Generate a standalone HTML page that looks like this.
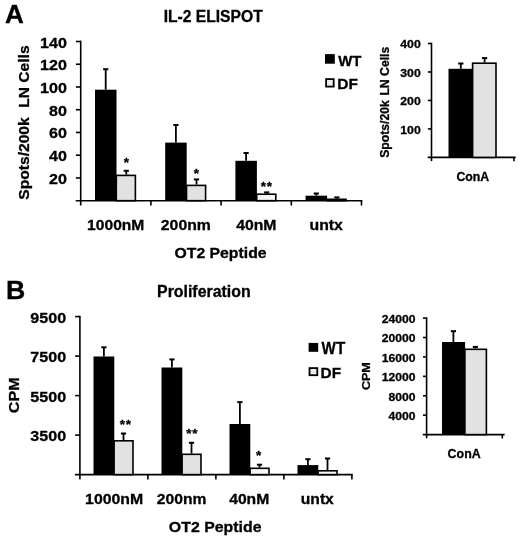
<!DOCTYPE html>
<html><head><meta charset="utf-8"><style>
html,body{margin:0;padding:0;background:#fff;}
svg{display:block;will-change:transform;}
text{font-family:"Liberation Sans", sans-serif;font-weight:bold;fill:#000;font-kerning:none;white-space:pre;stroke:#000;stroke-width:0.3px;}
</style></head><body>
<svg width="520" height="537" viewBox="0 0 520 537">
<rect width="520" height="537" fill="#fff"/>
<text transform="translate(4.95,23.30) scale(1.0139,1)" font-size="25.73">A</text>
<text transform="translate(163.65,21.90) scale(0.9933,1)" font-size="15.75">IL-2 ELISPOT</text>
<line x1="80.70" y1="40.70" x2="80.70" y2="201.50" stroke="#000" stroke-width="1.6"/>
<line x1="75.90" y1="177.96" x2="80.70" y2="177.96" stroke="#000" stroke-width="1.6"/>
<text transform="translate(48.97,183.96) scale(1.0400,1)" font-size="15.47">20</text>
<line x1="75.90" y1="155.21" x2="80.70" y2="155.21" stroke="#000" stroke-width="1.6"/>
<text transform="translate(48.97,161.21) scale(1.0400,1)" font-size="15.47">40</text>
<line x1="75.90" y1="132.47" x2="80.70" y2="132.47" stroke="#000" stroke-width="1.6"/>
<text transform="translate(48.97,138.47) scale(1.0400,1)" font-size="15.47">60</text>
<line x1="75.90" y1="109.73" x2="80.70" y2="109.73" stroke="#000" stroke-width="1.6"/>
<text transform="translate(48.97,115.73) scale(1.0400,1)" font-size="15.47">80</text>
<line x1="75.90" y1="86.99" x2="80.70" y2="86.99" stroke="#000" stroke-width="1.6"/>
<text transform="translate(40.02,92.99) scale(1.0400,1)" font-size="15.47">100</text>
<line x1="75.90" y1="64.24" x2="80.70" y2="64.24" stroke="#000" stroke-width="1.6"/>
<text transform="translate(40.02,70.24) scale(1.0400,1)" font-size="15.47">120</text>
<line x1="75.90" y1="41.50" x2="80.70" y2="41.50" stroke="#000" stroke-width="1.6"/>
<text transform="translate(40.02,47.50) scale(1.0400,1)" font-size="15.47">140</text>
<line x1="75.70" y1="200.70" x2="362.30" y2="200.70" stroke="#000" stroke-width="1.6"/>
<line x1="80.70" y1="200.70" x2="80.70" y2="205.50" stroke="#000" stroke-width="1.6"/>
<line x1="150.90" y1="200.70" x2="150.90" y2="205.50" stroke="#000" stroke-width="1.6"/>
<line x1="221.10" y1="200.70" x2="221.10" y2="205.50" stroke="#000" stroke-width="1.6"/>
<line x1="291.30" y1="200.70" x2="291.30" y2="205.50" stroke="#000" stroke-width="1.6"/>
<line x1="361.50" y1="200.70" x2="361.50" y2="205.50" stroke="#000" stroke-width="1.6"/>
<text transform="translate(28.70,199.65) rotate(-90) scale(1.0474,1)" font-size="14.90">Spots/200k</text>
<text transform="translate(28.70,107.74) rotate(-90) scale(1.0461,1)" font-size="14.90">LN Cells</text>
<rect x="95.00" y="89.70" width="21.50" height="111.00" fill="#000"/>
<line x1="105.70" y1="89.70" x2="105.70" y2="69.20" stroke="#000" stroke-width="1.8"/>
<line x1="103.10" y1="69.20" x2="108.30" y2="69.20" stroke="#000" stroke-width="2.0"/>
<rect x="116.30" y="175.40" width="19.10" height="25.30" fill="#e2e2e2" stroke="#000" stroke-width="1.6"/>
<line x1="126.30" y1="174.60" x2="126.30" y2="170.80" stroke="#000" stroke-width="1.8"/>
<line x1="123.70" y1="170.80" x2="128.90" y2="170.80" stroke="#000" stroke-width="2.0"/>
<text x="123.76" y="167.08" font-size="13.5">*</text>
<rect x="165.20" y="142.60" width="21.50" height="58.10" fill="#000"/>
<line x1="175.90" y1="142.60" x2="175.90" y2="125.00" stroke="#000" stroke-width="1.8"/>
<line x1="173.30" y1="125.00" x2="178.50" y2="125.00" stroke="#000" stroke-width="2.0"/>
<rect x="186.50" y="185.40" width="19.10" height="15.30" fill="#e2e2e2" stroke="#000" stroke-width="1.6"/>
<line x1="196.50" y1="184.60" x2="196.50" y2="179.40" stroke="#000" stroke-width="1.8"/>
<line x1="193.90" y1="179.40" x2="199.10" y2="179.40" stroke="#000" stroke-width="2.0"/>
<text x="193.66" y="178.18" font-size="13.5">*</text>
<rect x="235.40" y="160.80" width="21.50" height="39.90" fill="#000"/>
<line x1="246.10" y1="160.80" x2="246.10" y2="153.00" stroke="#000" stroke-width="1.8"/>
<line x1="243.50" y1="153.00" x2="248.70" y2="153.00" stroke="#000" stroke-width="2.0"/>
<rect x="256.70" y="194.20" width="19.10" height="6.50" fill="#f6f6f6" stroke="#000" stroke-width="1.6"/>
<line x1="266.70" y1="193.40" x2="266.70" y2="192.40" stroke="#000" stroke-width="1.8"/>
<line x1="264.10" y1="192.40" x2="269.30" y2="192.40" stroke="#000" stroke-width="2.0"/>
<text x="260.71" y="191.38" font-size="13.5">*</text>
<text x="266.81" y="191.38" font-size="13.5">*</text>
<rect x="305.60" y="195.70" width="21.50" height="5.00" fill="#000"/>
<line x1="316.30" y1="195.70" x2="316.30" y2="193.50" stroke="#000" stroke-width="1.8"/>
<line x1="313.70" y1="193.50" x2="318.90" y2="193.50" stroke="#000" stroke-width="2.0"/>
<rect x="326.90" y="199.30" width="19.10" height="1.40" fill="#f6f6f6" stroke="#000" stroke-width="1.6"/>
<line x1="336.90" y1="198.50" x2="336.90" y2="197.40" stroke="#000" stroke-width="1.8"/>
<line x1="334.30" y1="197.40" x2="339.50" y2="197.40" stroke="#000" stroke-width="2.0"/>
<text transform="translate(87.12,229.90) scale(1.0374,1)" font-size="15.04">1000nM</text>
<text transform="translate(160.85,229.90) scale(1.0500,1)" font-size="15.04">200nm</text>
<text transform="translate(236.16,229.90) scale(1.0509,1)" font-size="15.04">40nM</text>
<text transform="translate(309.52,229.90) scale(1.0751,1)" font-size="14.72">untx</text>
<text transform="translate(174.55,257.60) scale(1.0688,1)" font-size="14.77">OT2 Peptide</text>
<rect x="325.00" y="54.10" width="9.80" height="9.60" fill="#000"/>
<text transform="translate(338.29,65.60) scale(0.9675,1)" font-size="15.41">WT</text>
<rect x="326.10" y="79.10" width="7.60" height="7.50" fill="#ececec" stroke="#000" stroke-width="1.8"/>
<text transform="translate(337.27,89.40) scale(1.0423,1)" font-size="14.83">DF</text>
<line x1="431.50" y1="42.70" x2="431.50" y2="158.20" stroke="#000" stroke-width="1.6"/>
<line x1="427.90" y1="128.93" x2="431.50" y2="128.93" stroke="#000" stroke-width="1.6"/>
<text transform="translate(400.30,133.62) scale(1.0670,1)" font-size="11.46">100</text>
<line x1="427.90" y1="100.45" x2="431.50" y2="100.45" stroke="#000" stroke-width="1.6"/>
<text transform="translate(400.30,105.15) scale(1.0670,1)" font-size="11.46">200</text>
<line x1="427.90" y1="71.97" x2="431.50" y2="71.97" stroke="#000" stroke-width="1.6"/>
<text transform="translate(400.30,76.67) scale(1.0670,1)" font-size="11.46">300</text>
<line x1="427.90" y1="43.50" x2="431.50" y2="43.50" stroke="#000" stroke-width="1.6"/>
<text transform="translate(400.30,48.20) scale(1.0670,1)" font-size="11.46">400</text>
<line x1="427.70" y1="157.40" x2="515.70" y2="157.40" stroke="#000" stroke-width="1.6"/>
<line x1="431.50" y1="157.40" x2="431.50" y2="161.10" stroke="#000" stroke-width="1.6"/>
<line x1="513.90" y1="157.40" x2="513.90" y2="161.20" stroke="#000" stroke-width="1.6"/>
<rect x="448.50" y="68.80" width="24.30" height="88.60" fill="#000"/>
<line x1="460.80" y1="68.80" x2="460.80" y2="63.50" stroke="#000" stroke-width="1.8"/>
<line x1="458.20" y1="63.50" x2="463.40" y2="63.50" stroke="#000" stroke-width="2.0"/>
<rect x="472.60" y="63.20" width="23.40" height="94.20" fill="#e2e2e2" stroke="#000" stroke-width="1.6"/>
<line x1="484.60" y1="62.40" x2="484.60" y2="58.10" stroke="#000" stroke-width="1.8"/>
<line x1="482.00" y1="58.10" x2="487.20" y2="58.10" stroke="#000" stroke-width="2.0"/>
<text transform="translate(456.39,180.80) scale(1.0116,1)" font-size="12.17">ConA</text>
<text transform="translate(389.00,157.85) rotate(-90) scale(1.0180,1)" font-size="12.01">Spots/20k</text>
<text transform="translate(389.00,95.62) rotate(-90) scale(1.0184,1)" font-size="12.01">LN Cells</text>
<text transform="translate(6.01,298.80) scale(1.0448,1)" font-size="25.58">B</text>
<text transform="translate(157.04,296.90) scale(1.0019,1)" font-size="15.87">Proliferation</text>
<line x1="79.90" y1="315.80" x2="79.90" y2="475.40" stroke="#000" stroke-width="1.6"/>
<line x1="75.10" y1="435.10" x2="79.90" y2="435.10" stroke="#000" stroke-width="1.6"/>
<text transform="translate(30.37,441.30) scale(1.0400,1)" font-size="15.47">3500</text>
<line x1="75.10" y1="395.60" x2="79.90" y2="395.60" stroke="#000" stroke-width="1.6"/>
<text transform="translate(30.37,401.80) scale(1.0400,1)" font-size="15.47">5500</text>
<line x1="75.10" y1="356.10" x2="79.90" y2="356.10" stroke="#000" stroke-width="1.6"/>
<text transform="translate(30.37,362.30) scale(1.0400,1)" font-size="15.47">7500</text>
<line x1="75.10" y1="316.60" x2="79.90" y2="316.60" stroke="#000" stroke-width="1.6"/>
<text transform="translate(30.37,322.80) scale(1.0400,1)" font-size="15.47">9500</text>
<line x1="74.90" y1="474.60" x2="352.70" y2="474.60" stroke="#000" stroke-width="1.6"/>
<line x1="79.90" y1="474.60" x2="79.90" y2="479.40" stroke="#000" stroke-width="1.6"/>
<line x1="147.90" y1="474.60" x2="147.90" y2="479.40" stroke="#000" stroke-width="1.6"/>
<line x1="215.90" y1="474.60" x2="215.90" y2="479.40" stroke="#000" stroke-width="1.6"/>
<line x1="283.90" y1="474.60" x2="283.90" y2="479.40" stroke="#000" stroke-width="1.6"/>
<line x1="351.90" y1="474.60" x2="351.90" y2="479.40" stroke="#000" stroke-width="1.6"/>
<text transform="translate(19.20,413.16) rotate(-90) scale(1.0427,1)" font-size="15.47">CPM</text>
<rect x="93.50" y="356.50" width="20.80" height="118.10" fill="#000"/>
<line x1="103.90" y1="356.50" x2="103.90" y2="347.30" stroke="#000" stroke-width="1.8"/>
<line x1="101.30" y1="347.30" x2="106.50" y2="347.30" stroke="#000" stroke-width="2.0"/>
<rect x="114.10" y="440.80" width="18.90" height="33.80" fill="#e2e2e2" stroke="#000" stroke-width="1.6"/>
<line x1="123.50" y1="440.00" x2="123.50" y2="433.50" stroke="#000" stroke-width="1.8"/>
<line x1="120.90" y1="433.50" x2="126.10" y2="433.50" stroke="#000" stroke-width="2.0"/>
<text x="119.76" y="429.28" font-size="13.5">*</text>
<text x="125.86" y="429.28" font-size="13.5">*</text>
<rect x="161.50" y="367.50" width="20.80" height="107.10" fill="#000"/>
<line x1="171.90" y1="367.50" x2="171.90" y2="359.40" stroke="#000" stroke-width="1.8"/>
<line x1="169.30" y1="359.40" x2="174.50" y2="359.40" stroke="#000" stroke-width="2.0"/>
<rect x="182.10" y="454.30" width="18.90" height="20.30" fill="#e2e2e2" stroke="#000" stroke-width="1.6"/>
<line x1="191.50" y1="453.50" x2="191.50" y2="442.80" stroke="#000" stroke-width="1.8"/>
<line x1="188.90" y1="442.80" x2="194.10" y2="442.80" stroke="#000" stroke-width="2.0"/>
<text x="186.16" y="437.98" font-size="13.5">*</text>
<text x="192.26" y="437.98" font-size="13.5">*</text>
<rect x="229.50" y="424.00" width="20.80" height="50.60" fill="#000"/>
<line x1="239.90" y1="424.00" x2="239.90" y2="402.10" stroke="#000" stroke-width="1.8"/>
<line x1="237.30" y1="402.10" x2="242.50" y2="402.10" stroke="#000" stroke-width="2.0"/>
<rect x="250.10" y="468.30" width="18.90" height="6.30" fill="#f6f6f6" stroke="#000" stroke-width="1.6"/>
<line x1="259.50" y1="467.50" x2="259.50" y2="464.70" stroke="#000" stroke-width="1.8"/>
<line x1="256.90" y1="464.70" x2="262.10" y2="464.70" stroke="#000" stroke-width="2.0"/>
<text x="255.96" y="460.18" font-size="13.5">*</text>
<rect x="297.50" y="465.10" width="20.80" height="9.50" fill="#000"/>
<line x1="307.90" y1="465.10" x2="307.90" y2="459.20" stroke="#000" stroke-width="1.8"/>
<line x1="305.30" y1="459.20" x2="310.50" y2="459.20" stroke="#000" stroke-width="2.0"/>
<rect x="318.10" y="470.80" width="18.90" height="3.80" fill="#f6f6f6" stroke="#000" stroke-width="1.6"/>
<line x1="327.50" y1="470.00" x2="327.50" y2="458.50" stroke="#000" stroke-width="1.8"/>
<line x1="324.90" y1="458.50" x2="330.10" y2="458.50" stroke="#000" stroke-width="2.0"/>
<text transform="translate(85.10,503.90) scale(1.0346,1)" font-size="15.32">1000nM</text>
<text transform="translate(156.86,503.90) scale(1.0218,1)" font-size="15.32">200nm</text>
<text transform="translate(229.16,503.90) scale(1.0234,1)" font-size="15.32">40nM</text>
<text transform="translate(300.83,503.90) scale(1.0401,1)" font-size="15.02">untx</text>
<text transform="translate(168.85,531.50) scale(1.0671,1)" font-size="14.90">OT2 Peptide</text>
<rect x="308.60" y="342.90" width="9.60" height="8.90" fill="#000"/>
<text transform="translate(321.59,354.30) scale(0.9400,1)" font-size="16.13">WT</text>
<rect x="309.50" y="368.10" width="7.80" height="7.10" fill="#ececec" stroke="#000" stroke-width="1.8"/>
<text transform="translate(320.57,378.20) scale(1.0268,1)" font-size="14.97">DF</text>
<line x1="426.60" y1="317.30" x2="426.60" y2="435.40" stroke="#000" stroke-width="1.6"/>
<line x1="423.00" y1="415.18" x2="426.60" y2="415.18" stroke="#000" stroke-width="1.6"/>
<text transform="translate(388.51,419.98) scale(1.1000,1)" font-size="11.03">4000</text>
<line x1="423.00" y1="395.77" x2="426.60" y2="395.77" stroke="#000" stroke-width="1.6"/>
<text transform="translate(388.51,400.57) scale(1.1000,1)" font-size="11.03">8000</text>
<line x1="423.00" y1="376.35" x2="426.60" y2="376.35" stroke="#000" stroke-width="1.6"/>
<text transform="translate(381.77,381.15) scale(1.1000,1)" font-size="11.03">12000</text>
<line x1="423.00" y1="356.93" x2="426.60" y2="356.93" stroke="#000" stroke-width="1.6"/>
<text transform="translate(381.77,361.73) scale(1.1000,1)" font-size="11.03">16000</text>
<line x1="423.00" y1="337.52" x2="426.60" y2="337.52" stroke="#000" stroke-width="1.6"/>
<text transform="translate(381.77,342.32) scale(1.1000,1)" font-size="11.03">20000</text>
<line x1="423.00" y1="318.10" x2="426.60" y2="318.10" stroke="#000" stroke-width="1.6"/>
<text transform="translate(381.77,322.90) scale(1.1000,1)" font-size="11.03">24000</text>
<line x1="422.80" y1="434.60" x2="504.60" y2="434.60" stroke="#000" stroke-width="1.6"/>
<line x1="426.60" y1="434.60" x2="426.60" y2="438.30" stroke="#000" stroke-width="1.6"/>
<line x1="502.30" y1="434.60" x2="502.30" y2="438.50" stroke="#000" stroke-width="1.6"/>
<rect x="442.00" y="342.00" width="23.10" height="92.60" fill="#000"/>
<line x1="453.40" y1="342.00" x2="453.40" y2="331.20" stroke="#000" stroke-width="1.8"/>
<line x1="450.80" y1="331.20" x2="456.00" y2="331.20" stroke="#000" stroke-width="2.0"/>
<rect x="464.90" y="349.30" width="21.50" height="85.30" fill="#e2e2e2" stroke="#000" stroke-width="1.6"/>
<line x1="475.40" y1="348.50" x2="475.40" y2="346.90" stroke="#000" stroke-width="1.8"/>
<line x1="472.80" y1="346.90" x2="478.00" y2="346.90" stroke="#000" stroke-width="2.0"/>
<text transform="translate(447.59,458.40) scale(0.9643,1)" font-size="12.89">ConA</text>
<text transform="translate(370.10,390.12) rotate(-90) scale(1.0845,1)" font-size="11.60">CPM</text>
</svg>
</body></html>
